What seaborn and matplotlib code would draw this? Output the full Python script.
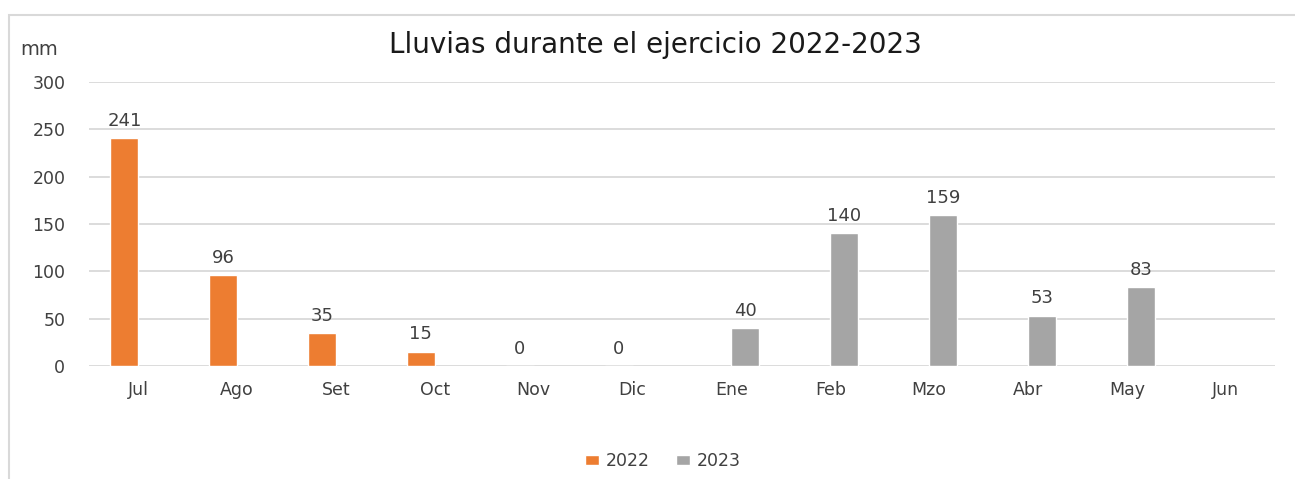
import pandas as pd
import matplotlib.pyplot as plt
import seaborn as sns
from matplotlib.patches import Rectangle

# Datos de lluvia (mm) por mes
meses = ['Jul', 'Ago', 'Set', 'Oct', 'Nov', 'Dic',
         'Ene', 'Feb', 'Mzo', 'Abr', 'May', 'Jun']
lluvia_2022 = [241, 96, 35, 15, 0, 0, None, None, None, None, None, None]
lluvia_2023 = [None, None, None, None, None, None, 40, 140, 159, 53, 83, None]
anios = ['2022', '2023']
colores = ['#ED7D31', '#A5A5A5']

df = pd.DataFrame({
    'mes': meses * 2,
    'mm': lluvia_2022 + lluvia_2023,
    'anio': [anios[0]] * 12 + [anios[1]] * 12,
})
df = df.dropna()

sns.set_style('white')
plt.rcParams['font.family'] = ['DejaVu Sans']
texto = '#404040'

fig = plt.figure(figsize=(12.95, 4.79), dpi=100)
ax = fig.add_axes([0.0687, 0.2359, 0.9159, 0.5929])

sns.barplot(data=df, x='mes', y='mm', hue='anio', order=meses, hue_order=anios,
            palette=colores, width=0.567, dodge=True, errorbar=None, saturation=1,
            legend=True, ax=ax)

for c in ax.containers:
    ax.bar_label(c, fmt='%.0f', padding=6, fontsize=13, color=texto)

ax.set_ylim(0, 300)
ax.set_yticks(range(0, 301, 50))
ax.set_xlim(-0.5, 11.5)
ax.grid(axis='y', color='#D9D9D9', linewidth=1.3)
ax.set_axisbelow(True)
for s in ax.spines.values():
    s.set_visible(False)
ax.set_xlabel('')
ax.set_ylabel('')
ax.tick_params(axis='x', length=0, pad=11, labelsize=12.5, labelcolor=texto)
ax.tick_params(axis='y', length=0, pad=17, labelsize=12.5, labelcolor=texto)

handles, labels = ax.get_legend_handles_labels()
ax.get_legend().remove()
fig.legend(handles, labels, loc='center', bbox_to_anchor=(0.512, 0.038), ncol=2,
           frameon=False, fontsize=12.5, labelcolor=texto, handlelength=0.8,
           handleheight=0.5, handletextpad=0.4, columnspacing=1.5)

fig.text(0.506, 0.906, 'Lluvias durante el ejercicio 2022-2023', ha='center',
         va='center', fontsize=20, color='#1a1a1a')
fig.text(0.016, 0.896, 'mm', ha='left', va='center', fontsize=14, color=texto)

# marco del gráfico
fig.add_artist(Rectangle((0.007, -0.2), 1.3, 0.9687 + 0.2, transform=fig.transFigure,
                         fill=False, edgecolor='#D9D9D9', linewidth=1.5))

fig.savefig('out.png', dpi=100)
